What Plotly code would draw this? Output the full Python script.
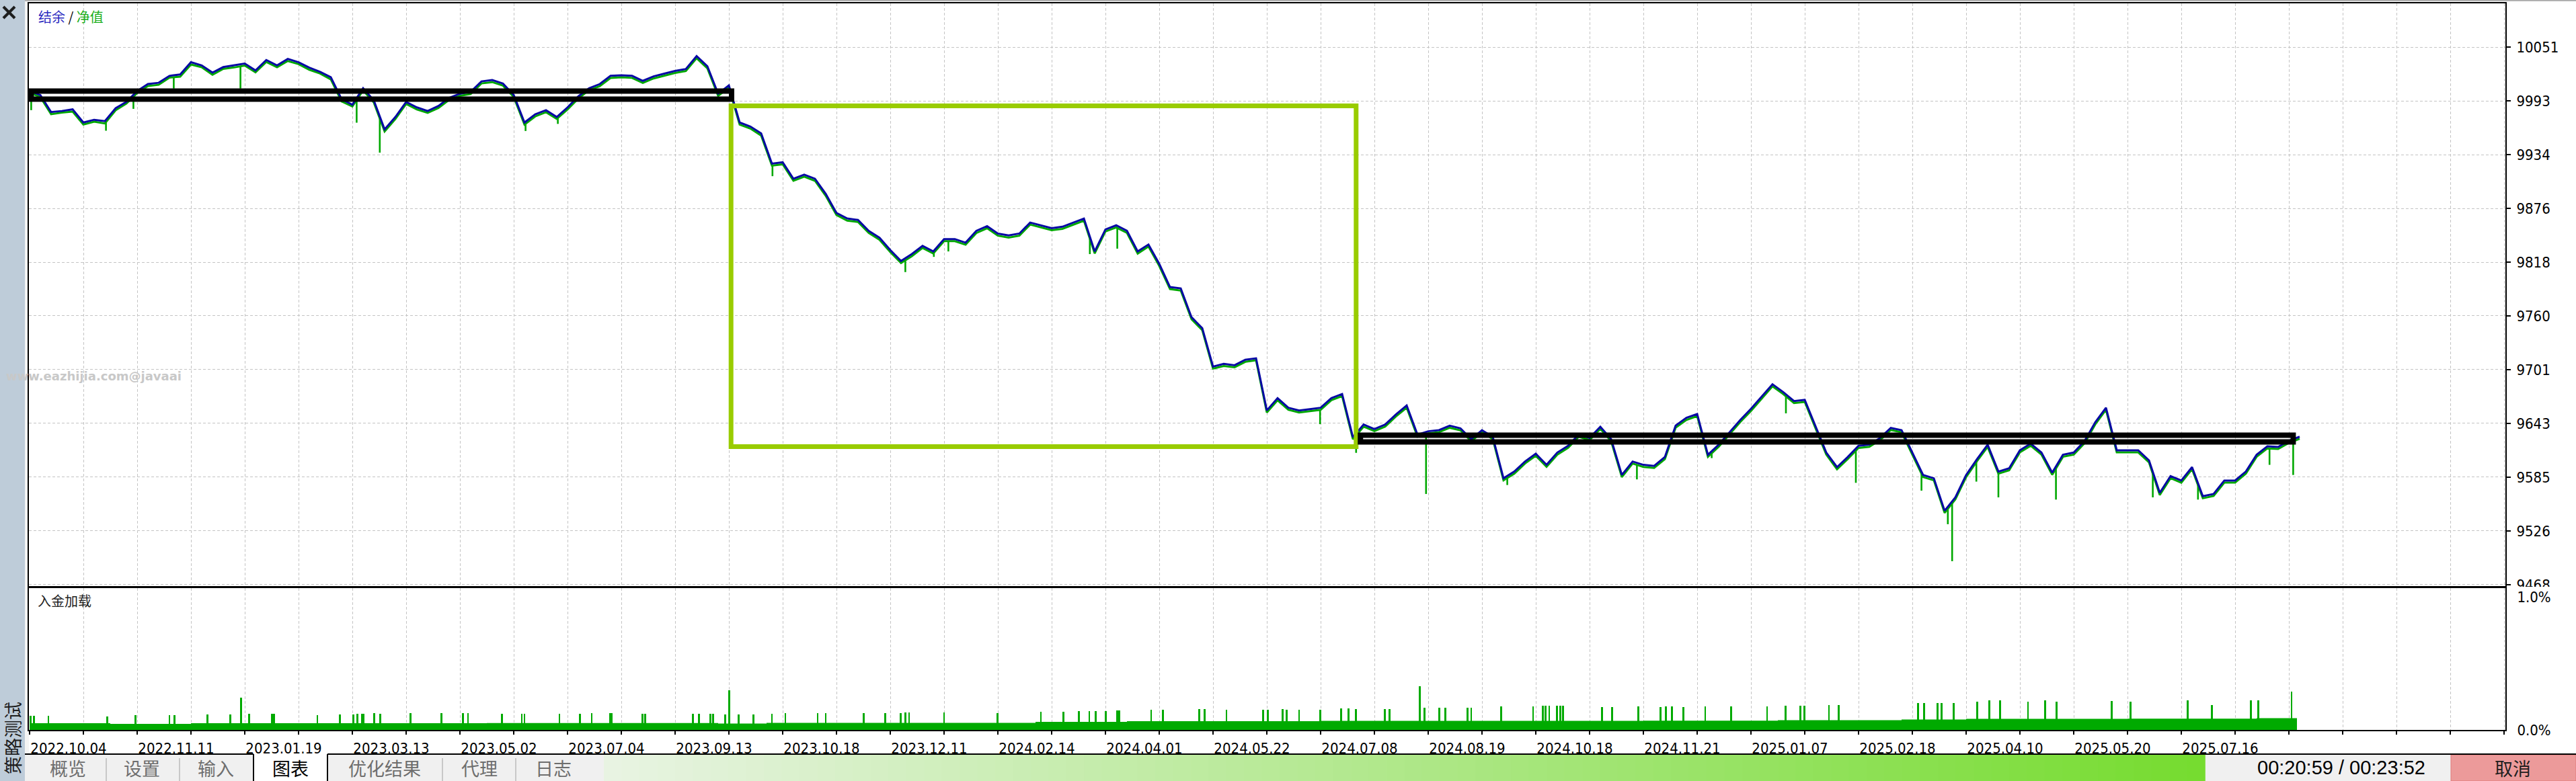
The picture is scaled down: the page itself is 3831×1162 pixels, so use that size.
import numpy as np
import plotly.graph_objects as go

W, H = 3831, 1162

# ---------------- data ----------------
# balance / equity sampled every 0.2 grid-columns (bar-index scale)
balance = [
    10003.4, 9999.0, 9980.5, 9981.7, 9983.5, 9969.2, 9972.2, 9970.7, 9984.7, 9991.5,
    10003.4, 10010.9, 10012.3, 10019.8, 10021.3, 10034.6, 10031.1, 10023.3, 10029.3, 10031.1,
    10033.2, 10025.7, 10037.0, 10031.1, 10038.2, 10034.6, 10028.7, 10024.2, 10018.3, 9994.5,
    9988.5, 10006.4, 9993.0, 9961.8, 9975.2, 9991.5, 9985.6, 9981.7, 9987.1, 9996.0,
    10000.4, 10002.5, 10013.8, 10015.3, 10011.4, 9999.0, 9969.2, 9978.1, 9982.6, 9975.2,
    9985.6, 9997.5, 10006.4, 10010.9, 10019.8, 10020.4, 10019.8, 10014.4, 10019.2, 10022.2,
    10025.1, 10027.2, 10041.2, 10030.2, 10000.4, 10009.4, 9969.2, 9964.8, 9957.3, 9924.6,
    9926.1, 9908.2, 9912.7, 9908.2, 9891.9, 9871.1, 9865.1, 9863.6, 9851.7, 9844.3,
    9830.9, 9819.0, 9826.5, 9835.4, 9829.4, 9842.8, 9842.8, 9838.9, 9851.7, 9856.8,
    9848.8, 9846.7, 9848.8, 9860.7, 9857.7, 9854.7, 9856.2, 9860.7, 9865.1, 9829.4,
    9853.2, 9857.7, 9851.7, 9829.4, 9836.9, 9816.0, 9790.8, 9789.3, 9758.1, 9746.2,
    9704.5, 9707.5, 9706.0, 9712.0, 9713.5, 9657.0, 9670.3, 9659.9, 9657.0, 9658.4,
    9659.9, 9670.3, 9674.8, 9628.0, 9641.7, 9636.8, 9641.7, 9652.6, 9662.3, 9630.8,
    9634.4, 9635.6, 9640.5, 9637.6, 9625.9, 9635.6, 9628.3, 9583.4, 9590.7, 9601.6,
    9610.1, 9598.0, 9611.3, 9618.6, 9630.8, 9627.1, 9639.3, 9625.9, 9587.0, 9601.6,
    9598.0, 9596.8, 9606.5, 9640.5, 9649.0, 9653.1, 9608.9, 9619.8, 9633.2, 9646.5,
    9658.7, 9672.1, 9685.4, 9676.9, 9667.2, 9668.4, 9640.5, 9611.3, 9595.5, 9606.5,
    9618.6, 9619.8, 9627.1, 9638.0, 9635.6, 9611.3, 9587.0, 9583.4, 9548.2, 9562.7,
    9587.0, 9604.0, 9619.8, 9590.7, 9594.3, 9613.8, 9621.0, 9611.3, 9589.5, 9608.9,
    9611.3, 9623.5, 9644.1, 9659.9, 9613.8, 9613.8, 9613.8, 9602.8, 9567.6, 9585.8,
    9581.0, 9595.5, 9564.0, 9566.4, 9581.0, 9581.0, 9590.7, 9608.9, 9618.1, 9617.4,
    9624.0, 9628.5,
]
equity = [
    10001.5, 9996.8, 9978.2, 9979.9, 9981.0, 9967.0, 9970.1, 9968.2, 9982.5, 9989.8,
    10001.2, 10008.8, 10010.1, 10017.9, 10019.0, 10032.1, 10029.2, 10021.0, 10027.4, 10028.9,
    10031.0, 10023.6, 10034.8, 10029.2, 10035.9, 10032.5, 10026.4, 10022.3, 10016.0, 9992.1,
    9986.6, 10004.1, 9990.8, 9959.5, 9973.0, 9989.4, 9983.3, 9979.6, 9984.9, 9993.8,
    9998.2, 10000.1, 10011.6, 10013.0, 10009.2, 9996.9, 9967.0, 9975.8, 9980.4, 9973.1,
    9983.3, 9995.2, 10004.3, 10008.7, 10017.5, 10018.3, 10017.6, 10012.1, 10017.0, 10020.0,
    10022.9, 10025.0, 10038.9, 10028.0, 9998.2, 10007.1, 9967.0, 9962.6, 9955.0, 9922.4,
    9923.9, 9906.0, 9910.4, 9906.0, 9889.7, 9868.9, 9862.8, 9861.4, 9849.5, 9842.0,
    9828.7, 9816.8, 9824.2, 9833.2, 9827.1, 9840.6, 9840.5, 9836.7, 9849.4, 9854.6,
    9846.5, 9844.5, 9846.5, 9858.5, 9855.4, 9852.5, 9853.9, 9858.5, 9862.8, 9827.2,
    9851.0, 9855.4, 9849.5, 9827.1, 9834.7, 9813.7, 9788.6, 9787.0, 9755.9, 9744.0,
    9702.3, 9705.2, 9703.8, 9709.7, 9711.3, 9654.8, 9668.0, 9657.7, 9654.7, 9656.2,
    9657.6, 9668.1, 9672.5, 9625.8, 9639.4, 9634.6, 9639.4, 9650.4, 9660.0, 9628.6,
    9632.1, 9633.4, 9638.2, 9635.4, 9623.6, 9633.4, 9626.0, 9581.2, 9588.4, 9599.4,
    9607.8, 9595.8, 9609.0, 9616.4, 9628.5, 9624.9, 9637.0, 9623.7, 9584.7, 9599.4,
    9595.7, 9594.6, 9604.2, 9638.3, 9646.7, 9650.9, 9606.6, 9617.6, 9630.9, 9644.3,
    9656.4, 9669.9, 9683.1, 9674.7, 9664.9, 9666.2, 9638.2, 9609.1, 9593.2, 9604.3,
    9616.3, 9617.6, 9624.8, 9635.8, 9633.3, 9609.1, 9584.7, 9581.2, 9545.9, 9560.5,
    9584.7, 9601.8, 9617.5, 9588.5, 9592.0, 9611.6, 9618.7, 9609.1, 9587.2, 9606.7,
    9609.0, 9621.3, 9641.8, 9657.7, 9611.5, 9611.6, 9611.5, 9600.6, 9565.3, 9583.6,
    9578.7, 9593.3, 9561.7, 9564.2, 9578.7, 9578.8, 9588.4, 9606.7, 9615.8, 9615.2,
    9621.7, 9626.3,
]
# short equity draw-downs (bar-index position, lowest equity)
equity_spike_pos = [0.03, 1.42, 1.93, 2.68, 3.92, 6.08, 6.51, 9.22, 9.82, 13.81, 16.28, 16.81,
                    17.08, 19.71, 20.22, 23.99, 24.66, 25.96, 27.47, 29.88, 31.27, 32.65, 33.95,
                    35.17, 35.66, 35.74, 36.19, 36.6, 37.67, 39.47, 40.31, 41.64, 42.08]
equity_spike_low = [9982.6, 9960.3, 9984.0, 10006.0, 10006.0, 9969.0, 9936.5, 9960.0, 9967.7,
                    9911.0, 9807.0, 9823.5, 9829.4, 9826.5, 9832.4, 9642.1, 9611.0, 9566.4,
                    9576.1, 9582.2, 9605.3, 9653.8, 9578.5, 9570.0, 9533.6, 9493.5, 9579.8,
                    9562.7, 9560.3, 9562.7, 9560.3, 9598.0, 9587.0]

balance_ticks = [10051.0, 9992.7, 9934.4, 9876.1, 9817.8, 9759.5, 9701.2, 9642.9, 9584.6, 9526.3, 9468.0]
balance_tick_labels = ["10051", "9993", "9934", "9876", "9818", "9760", "9701", "9643", "9585", "9526", "9468"]

date_labels = ["2022.10.04", "2022.11.11", "2023.01.19", "2023.03.13", "2023.05.02", "2023.07.04",
               "2023.09.13", "2023.10.18", "2023.12.11", "2024.02.14", "2024.04.01", "2024.05.22",
               "2024.07.08", "2024.08.19", "2024.10.18", "2024.11.21", "2025.01.07", "2025.02.18",
               "2025.04.10", "2025.05.20", "2025.07.16"]

# deposit load (%)
load_base_pos = [0.0, 1.5, 3.0, 8.5, 12.8, 13.7, 18.7, 20.4, 24.0, 26.0, 30.0, 32.5, 34.8, 36.0, 39.0, 41.4, 42.15]
load_base = [0.050, 0.046, 0.050, 0.052, 0.048, 0.053, 0.060, 0.066, 0.068, 0.068, 0.070, 0.073, 0.078, 0.083, 0.085, 0.088, 0.088]
load_spike_pos = [0.02, 0.08, 0.35, 1.44, 1.97, 2.6, 2.69, 3.31, 3.73, 3.93, 4.08, 4.51, 4.54, 5.35, 5.77,
                  6.02, 6.09, 6.18, 6.21, 6.41, 6.52, 7.08, 7.66, 8.06, 8.15,
                  8.78, 9.15, 9.2, 9.85, 10.23, 10.45, 10.79, 10.82, 11.39, 11.44, 12.33, 12.44, 12.66,
                  12.71, 12.93, 13.01, 13.18, 13.46, 13.8, 14.05, 14.65, 14.8, 15.51, 15.91, 16.19,
                  16.28, 16.35, 17.0, 17.99, 18.8, 19.22, 19.51, 19.7, 19.82, 20.01, 20.22, 20.26,
                  20.85, 21.07, 21.74, 21.84, 22.25, 22.93, 23.02, 23.29, 23.37, 23.6, 23.99, 24.38,
                  24.52, 24.66, 25.19, 25.28,
                  25.84, 25.93, 26.21, 26.32, 26.73, 26.8, 27.36, 27.95, 28.13, 28.18, 28.25, 28.39,
                  28.46, 28.51, 29.23, 29.42, 29.91, 30.32, 30.42, 30.53, 30.74, 31.15, 31.63, 32.3,
                  32.64, 32.92, 32.99, 33.45, 33.63, 35.11, 35.22, 35.47, 35.54, 35.77, 36.21, 36.43,
                  36.63, 37.15, 37.47, 37.68, 38.71, 39.06, 40.12, 40.57, 41.29, 41.43, 42.05]
load_spike = [0.106, 0.106, 0.106, 0.101, 0.111, 0.111, 0.111, 0.115, 0.115, 0.241, 0.121, 0.121, 0.121,
              0.111, 0.115, 0.118, 0.121, 0.121, 0.121, 0.126, 0.121, 0.126, 0.126, 0.126, 0.126,
              0.121, 0.121, 0.121, 0.121, 0.121, 0.126, 0.126, 0.126, 0.121, 0.121, 0.121, 0.121, 0.121,
              0.121, 0.116, 0.300, 0.116, 0.116, 0.121, 0.126, 0.126, 0.126, 0.126, 0.126, 0.126,
              0.131, 0.131, 0.131, 0.126, 0.136, 0.136, 0.141, 0.141, 0.141, 0.141, 0.146, 0.146,
              0.152, 0.152, 0.157, 0.157, 0.152, 0.152, 0.152, 0.157, 0.152, 0.152, 0.152, 0.162,
              0.162, 0.157, 0.157, 0.157,
              0.330, 0.165, 0.165, 0.165, 0.165, 0.165, 0.177, 0.177, 0.182, 0.182, 0.182, 0.182,
              0.182, 0.182, 0.172, 0.172, 0.177, 0.172, 0.177, 0.177, 0.172, 0.177, 0.177, 0.177,
              0.182, 0.182, 0.182, 0.187, 0.187, 0.202, 0.202, 0.202, 0.202, 0.202, 0.212, 0.222,
              0.222, 0.212, 0.222, 0.212, 0.217, 0.212, 0.222, 0.187, 0.222, 0.222, 0.290]
load_ticks = [0.0, 1.0]
load_tick_labels = ["0.0%", "1.0%"]

# highlighted ranges drawn on the chart: [start, end] in bar index, [low, high] in balance
box_pos = [[0.03, 13.05], [13.04, 24.66], [24.74, 42.08]]
box_val = [[9994.5, 10003.3], [9617.8, 9987.2], [9622.8, 9630.1]]

tab_labels = ["概览", "设置", "输入", "图表", "优化结果", "代理", "日志"]
timer_text = "00:20:59 / 00:23:52"
cancel_text = "取消"

# ---------------- styling / geometry ----------------
STEP = 0.2
N_GRID = 46
X_LO, X_HI = -0.0125, 46.025
Y_LO, Y_HI = 9466.5, 10098.4
LOAD_TOP = 1.066

BLUE = "#0808A4"
GREEN = "#00A800"
GRID = "#C4C4C4"
TICK_FONT = dict(family="DejaVu Sans Condensed, Liberation Sans, sans-serif", size=22, color="#000000")
CJK = "Noto Sans CJK SC"


def px(x):
    return x / W


def py(y):
    return 1 - y / H


x_bal = np.arange(len(balance)) * STEP

sx, sy = [], []
for p, lo in zip(equity_spike_pos, equity_spike_low):
    sx += [p, p, None]
    sy += [float(np.interp(p, x_bal, equity)), lo, None]

fig = go.Figure()
fig.add_trace(go.Scatter(x=x_bal, y=equity, mode="lines", line=dict(color=GREEN, width=3),
                         xaxis="x", yaxis="y", hoverinfo="skip"))
fig.add_trace(go.Scatter(x=sx, y=sy, mode="lines", line=dict(color=GREEN, width=2.6),
                         xaxis="x", yaxis="y", hoverinfo="skip"))
fig.add_trace(go.Scatter(x=x_bal, y=balance, mode="lines", line=dict(color=BLUE, width=3),
                         xaxis="x", yaxis="y", hoverinfo="skip"))

fig.add_trace(go.Scatter(x=load_base_pos, y=load_base, mode="lines", line=dict(color="#00AA00", width=0, shape="hv"),
                         fill="tozeroy", fillcolor="#00AA00", xaxis="x2", yaxis="y2", hoverinfo="skip"))
fig.add_trace(go.Bar(x=load_spike_pos, y=load_spike, width=0.035, marker=dict(color="#00AA00", line=dict(width=0)),
                     xaxis="x2", yaxis="y2", hoverinfo="skip"))

grid_vals = list(range(0, N_GRID + 1))
grid_text = []
for i in grid_vals:
    if i % 2 == 0 and i // 2 < len(date_labels):
        grid_text.append(date_labels[i // 2])
    else:
        grid_text.append("")

axis_common = dict(showline=True, linecolor="#000000", linewidth=2, mirror=True, zeroline=False,
                   automargin=False)

shapes = []
# boxes (data coordinates)
box_colors = ["#000000", "#99CC00", "#000000"]
box_widths = [8, 7, 8]
for (x0, x1), (y0, y1), c, lw in zip(box_pos, box_val, box_colors, box_widths):
    shapes.append(dict(type="rect", xref="x", yref="y", x0=x0, x1=x1, y0=y0, y1=y1,
                       line=dict(color=c, width=lw), fillcolor="rgba(0,0,0,0)", layer="above"))

# window chrome
shapes += [
    dict(type="rect", xref="paper", yref="paper", x0=0, x1=px(37), y0=0, y1=1,
         fillcolor="#BECCD9", line=dict(width=0), layer="below"),
    dict(type="rect", xref="paper", yref="paper", x0=px(37), x1=px(43), y0=py(1122), y1=1,
         fillcolor="#F4F4F4", line=dict(width=0), layer="below"),
    dict(type="line", xref="paper", yref="paper", x0=px(37), x1=1, y0=py(0.8), y1=py(0.8),
         line=dict(color="#A8A8A8", width=2), layer="above"),
    dict(type="line", xref="paper", yref="paper", x0=px(5), x1=px(22), y0=py(10), y1=py(27),
         line=dict(color="#1E1E1E", width=4), layer="above"),
    dict(type="line", xref="paper", yref="paper", x0=px(5), x1=px(22), y0=py(27), y1=py(10),
         line=dict(color="#1E1E1E", width=4), layer="above"),
    # hide lower half of the last price label (covered by the lower pane)
    dict(type="rect", xref="paper", yref="paper", x0=px(3728), x1=1, y0=py(880), y1=py(873),
         fillcolor="#FFFFFF", line=dict(width=0), layer="above"),
    # tab strip
    dict(type="rect", xref="paper", yref="paper", x0=px(37), x1=px(898), y0=0, y1=py(1122),
         fillcolor="#F0F0F0", line=dict(width=0), layer="above"),
    dict(type="rect", xref="paper", yref="paper", x0=px(377), x1=px(487), y0=0, y1=py(1121),
         fillcolor="#FFFFFF", line=dict(width=0), layer="above"),
    dict(type="rect", xref="paper", yref="paper", x0=px(3279), x1=px(3645), y0=0, y1=py(1122),
         fillcolor="#F0F0F0", line=dict(width=0), layer="above"),
    dict(type="rect", xref="paper", yref="paper", x0=px(3645), x1=1, y0=0, y1=py(1123),
         fillcolor="#EC9A9A", line=dict(color="#E07A7A", width=1), layer="above"),
]
# progress gradient
n_strips = 90
c0 = np.array([233, 244, 227])
c1 = np.array([118, 220, 48])
g0, g1 = 898, 3279
for k in range(n_strips):
    t = (k + 0.5) / n_strips
    c = (c0 + (c1 - c0) * t).astype(int)
    xa = g0 + (g1 - g0) * k / n_strips
    xb = g0 + (g1 - g0) * (k + 1) / n_strips + 0.8
    shapes.append(dict(type="rect", xref="paper", yref="paper", x0=px(xa), x1=px(xb), y0=0, y1=py(1123),
                       fillcolor="rgb(%d,%d,%d)" % tuple(c), line=dict(width=0), layer="above"))
# tab strip borders
shapes += [
    dict(type="line", xref="paper", yref="paper", x0=px(37), x1=px(377), y0=py(1122), y1=py(1122),
         line=dict(color="#000000", width=2), layer="above"),
    dict(type="line", xref="paper", yref="paper", x0=px(487), x1=1, y0=py(1122), y1=py(1122),
         line=dict(color="#000000", width=2), layer="above"),
    dict(type="line", xref="paper", yref="paper", x0=px(377), x1=px(377), y0=0, y1=py(1122),
         line=dict(color="#000000", width=2), layer="above"),
    dict(type="line", xref="paper", yref="paper", x0=px(487), x1=px(487), y0=0, y1=py(1122),
         line=dict(color="#000000", width=2), layer="above"),
]
for sxp in [158, 267, 658, 767]:
    shapes.append(dict(type="line", xref="paper", yref="paper", x0=px(sxp), x1=px(sxp), y0=0, y1=py(1128),
                       line=dict(color="#A0A0A0", width=1), layer="above"))

annotations = [
    dict(xref="paper", yref="paper", x=px(55), y=py(25), xanchor="left", yanchor="middle", showarrow=False,
         text='<span style="color:#2B2BC0">结余</span><span style="color:#000000"> / </span>'
              '<span style="color:#1AAE1A">净值</span>',
         font=dict(family=CJK, size=20)),
    dict(xref="paper", yref="paper", x=px(54), y=py(893), xanchor="left", yanchor="middle", showarrow=False,
         text="入金加载", font=dict(family=CJK, size=20, color="#222222")),
    dict(xref="paper", yref="paper", x=px(7), y=py(559), xanchor="left", yanchor="middle", showarrow=False,
         text="<b>www.eazhijia.com@javaai</b>", font=dict(family="DejaVu Sans", size=18, color="#C8C8C8")),
    dict(xref="paper", yref="paper", x=px(18), y=py(1098), xanchor="center", yanchor="middle", showarrow=False,
         text="策略测试", textangle=-90, font=dict(family=CJK, size=27, color="#1E1E1E")),
    dict(xref="paper", yref="paper", x=px(3482), y=py(1142), xanchor="center", yanchor="middle", showarrow=False,
         text=timer_text, font=dict(family="Liberation Sans", size=29, color="#000000")),
    dict(xref="paper", yref="paper", x=px(3737), y=py(1142), xanchor="center", yanchor="middle", showarrow=False,
         text=cancel_text, font=dict(family=CJK, size=27, color="#1E1E1E")),
]
tab_centers = [101, 211, 321, 432, 572, 713, 823]
for lab, cx in zip(tab_labels, tab_centers):
    annotations.append(dict(xref="paper", yref="paper", x=px(cx), y=py(1142), xanchor="center", yanchor="middle",
                            showarrow=False, text=lab,
                            font=dict(family=CJK, size=27, color="#000000" if lab == "图表" else "#6E6E6E")))

fig.update_layout(
    width=W, height=H, autosize=False,
    margin=dict(l=0, r=0, t=0, b=0, pad=0, autoexpand=False),
    paper_bgcolor="#FFFFFF", plot_bgcolor="#FFFFFF",
    showlegend=False, hovermode=False, bargap=0,
    xaxis=dict(domain=[px(43), px(3726)], range=[X_LO, X_HI], anchor="y",
               tickvals=grid_vals, showticklabels=False, ticks="",
               showgrid=True, gridcolor=GRID, gridwidth=1, griddash="4px,3px", **axis_common),
    yaxis=dict(domain=[py(872), py(5)], range=[Y_LO, Y_HI], anchor="x", side="right",
               tickvals=balance_ticks, ticktext=balance_tick_labels, ticks="outside", ticklen=6,
               tickwidth=1.5, tickcolor="#000000", ticklabelstandoff=4, tickfont=TICK_FONT,
               showgrid=True, gridcolor=GRID, gridwidth=1, griddash="4px,3px", **axis_common),
    xaxis2=dict(domain=[px(43), px(3726)], range=[X_LO, X_HI], anchor="y2", matches="x",
                tickvals=grid_vals, ticktext=grid_text, ticks="outside", ticklen=5, tickwidth=1.5,
                tickcolor="#000000", tickfont=TICK_FONT, tickangle=0, ticklabelshift=58,
                ticklabelstandoff=2,
                showgrid=True, gridcolor=GRID, gridwidth=1, griddash="4px,3px", **axis_common),
    yaxis2=dict(domain=[py(1086), py(875)], range=[0, LOAD_TOP], anchor="x2", side="right",
                tickvals=load_ticks, ticktext=load_tick_labels, ticks="", ticklabelstandoff=11,
                tickfont=TICK_FONT, showgrid=False, **axis_common),
    shapes=shapes,
    annotations=annotations,
)

fig.write_html("out.html", config={"displayModeBar": False})
